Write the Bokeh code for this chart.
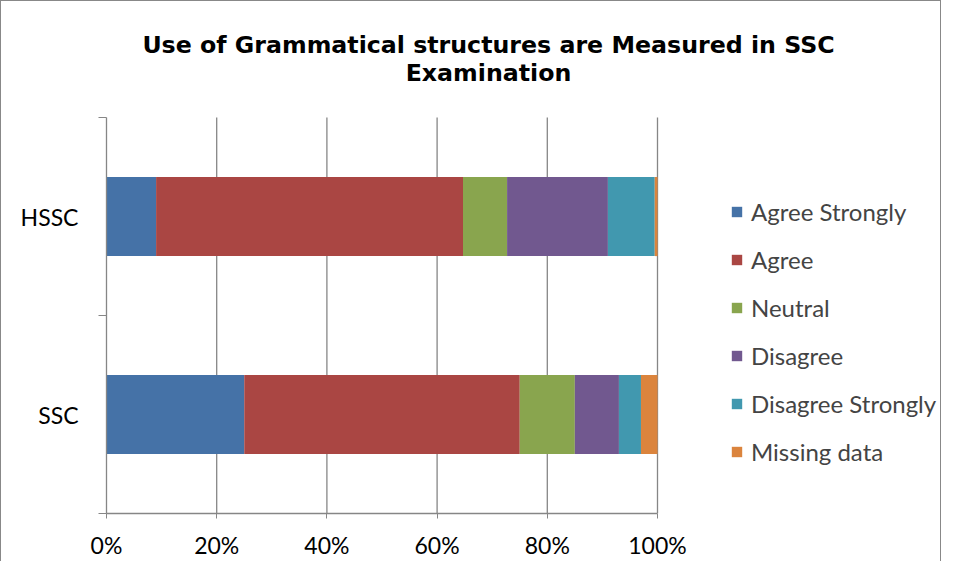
from bokeh.plotting import figure
from bokeh.models import (ColumnDataSource, FixedTicker, Legend, LegendItem, Label,
                          PrintfTickFormatter, Range1d)
from bokeh.embed import file_html
from bokeh.resources import INLINE

# ---- data ----
categories = ["SSC", "HSSC"]
positions = [0.5, 1.5]
agree_strongly = [25.0, 9.0]
agree = [50.0, 55.7]
neutral = [10.0, 8.0]
disagree = [8.0, 18.3]
disagree_strongly = [4.0, 8.5]
missing_data = [3.0, 0.5]
series_names = ["Agree Strongly", "Agree", "Neutral", "Disagree",
                "Disagree Strongly", "Missing data"]
series_colors = ["#4572A7", "#AA4643", "#89A54E", "#71588F", "#4198AF", "#DB843D"]
x_ticks = [0, 20, 40, 60, 80, 100]
y_boundaries = [0, 1, 2]
title_lines = ["Use of Grammatical structures are Measured in SSC", "Examination"]

keys = ["s0", "s1", "s2", "s3", "s4", "s5"]
source = ColumnDataSource(dict(y=positions, cat=categories,
                               s0=agree_strongly, s1=agree, s2=neutral,
                               s3=disagree, s4=disagree_strongly, s5=missing_data))

FONT = "Lato"
GRAY = "#868686"
# plot area (data region) is 551 x 396 px; the frame is extended up and right
PW, PH = 551, 396
FW, FH = 834, 512
x_max = x_ticks[-1]
y_max = y_boundaries[-1]

p = figure(frame_width=FW, frame_height=FH, output_backend="svg", toolbar_location=None,
           x_range=Range1d(0, x_max * FW / PW), y_range=Range1d(0, y_max * FH / PH),
           min_border_left=105, min_border_right=0, min_border_top=0,
           min_border_bottom=48)
p.styles = {"border-top": "1px solid #888888", "border-left": "1px solid #888888",
            "border-right": "1px solid #888888"}
p.outline_line_color = None
p.xgrid.grid_line_color = None
p.ygrid.grid_line_color = None

# vertical gridlines at the x ticks, spanning the data region only
p.segment(x0=x_ticks[1:], y0=[0] * (len(x_ticks) - 1), x1=x_ticks[1:],
          y1=[y_max] * (len(x_ticks) - 1), line_color=GRAY, line_width=1.3)

renderers = p.hbar_stack(keys, y="y", height=0.4, color=series_colors,
                         source=source, line_color=None)

# x axis
p.xaxis.bounds = (0, x_max)
p.xaxis.ticker = FixedTicker(ticks=x_ticks)
p.xaxis.formatter = PrintfTickFormatter(format="%d%%")
p.xaxis.axis_line_color = GRAY
p.xaxis.axis_line_width = 1.3
p.xaxis.major_tick_line_color = GRAY
p.xaxis.major_tick_in = 0
p.xaxis.major_tick_out = 5
p.xaxis.minor_tick_line_color = None
p.xaxis.major_label_text_font = FONT
p.xaxis.major_label_text_font_size = "23px"
p.xaxis.major_label_text_color = "black"
p.xaxis.major_label_standoff = 12

# y axis
p.yaxis.bounds = (0, y_max)
p.yaxis.ticker = FixedTicker(ticks=positions, minor_ticks=y_boundaries)
p.yaxis.major_label_overrides = {positions[i]: categories[i] for i in range(len(categories))}
p.yaxis.axis_line_color = GRAY
p.yaxis.axis_line_width = 1.3
p.yaxis.major_tick_line_color = None
p.yaxis.major_tick_out = 0
p.yaxis.major_tick_in = 0
p.yaxis.minor_tick_line_color = GRAY
p.yaxis.minor_tick_in = 0
p.yaxis.minor_tick_out = 8
p.yaxis.major_label_text_font = FONT
p.yaxis.major_label_text_font_size = "23px"
p.yaxis.major_label_text_color = "black"
p.yaxis.major_label_standoff = 20

# legend to the right of the data region
items = [LegendItem(label=series_names[i], renderers=[renderers[i]]) for i in range(len(keys))]
legend = Legend(items=items, location=(624, 47), padding=0, margin=0,
                glyph_width=13, glyph_height=13, label_height=30, spacing=18,
                label_standoff=8, border_line_color=None, background_fill_alpha=0,
                label_text_font=FONT, label_text_font_size="24px")
p.add_layout(legend, "center")

# title (two lines)
for txt, ty in zip(title_lines, [PH + 73, PH + 45]):
    p.add_layout(Label(x=382, y=ty, x_units="screen", y_units="screen", text=txt,
                       text_align="center", text_baseline="middle",
                       text_font="DejaVu Sans", text_font_size="23.7px",
                       text_font_style="bold", text_color="black"))

open("out.html", "w").write(file_html(p, INLINE))
